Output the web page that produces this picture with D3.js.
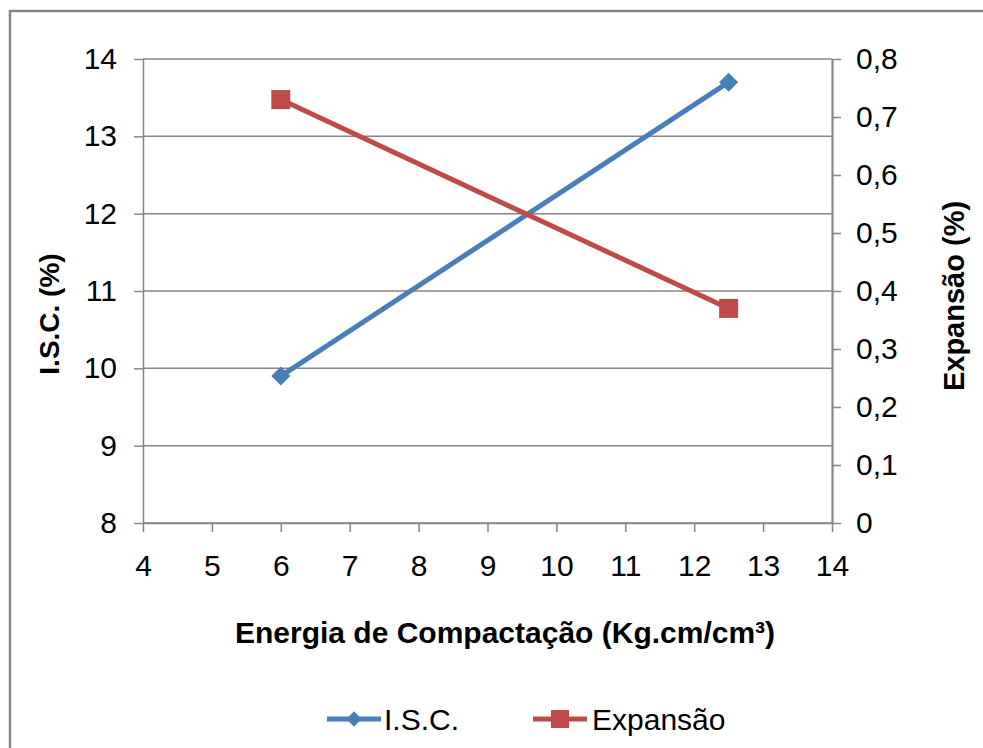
<!DOCTYPE html>
<html>
<head>
<meta charset="utf-8">
<script src="https://cdn.jsdelivr.net/npm/d3@7"></script>
<style>
  body { margin: 0; background: #fff; }
  text { font-family: "Liberation Sans", Arial, sans-serif; fill: #000; }
</style>
</head>
<body>
<div id="chart"></div>
<script>
// data
var energia = [6, 12.5];
var isc = [9.9, 13.7];
var expansao = [0.73, 0.37];

var xTicks = [4, 5, 6, 7, 8, 9, 10, 11, 12, 13, 14];
var yLeftTicks = [8, 9, 10, 11, 12, 13, 14];
var yRightTicks = [0, 0.1, 0.2, 0.3, 0.4, 0.5, 0.6, 0.7, 0.8];

var svgWidth = 983;
var svgHeight = 748;

var margin = { top: 59, right: 151, bottom: 225, left: 143 };
var width = 832 - margin.left;
var height = 523 - margin.top;

var blue = "#4a7ebb";
var red = "#be4b48";
var gray = "#868686";

var svg = d3.select("#chart")
  .append("svg")
  .attr("width", svgWidth)
  .attr("height", svgHeight);

// outer frame (top and left edges show)
svg.append("path")
  .attr("d", "M10,748 V11 H983")
  .attr("fill", "none")
  .attr("stroke", gray)
  .attr("stroke-width", 2.5);

var chartGroup = svg.append("g")
  .attr("transform", `translate(${margin.left}, ${margin.top})`);

var xScale = d3.scaleLinear().domain([4, 14]).range([0, width]);
var yLeft = d3.scaleLinear().domain([8, 14]).range([height, 0]);
var yRight = d3.scaleLinear().domain([0, 0.8]).range([height, 0]);

var comma = d3.formatLocale({ decimal: ",", thousands: ".", grouping: [3], currency: ["", ""] });

// gridlines from the left axis
chartGroup.append("g")
  .selectAll("line")
  .data(yLeftTicks)
  .enter()
  .append("line")
  .attr("x1", 0)
  .attr("x2", width)
  .attr("y1", d => yLeft(d))
  .attr("y2", d => yLeft(d))
  .attr("stroke", gray)
  .attr("stroke-width", 1.5);

// left axis
var leftAxis = chartGroup.append("g")
  .call(d3.axisLeft(yLeft).tickValues(yLeftTicks).tickFormat(d3.format("d"))
    .tickSize(9).tickPadding(17).tickSizeOuter(0));

// right axis
var rightAxis = chartGroup.append("g")
  .attr("transform", `translate(${width}, 0)`)
  .call(d3.axisRight(yRight).tickValues(yRightTicks).tickSize(9).tickPadding(15).tickSizeOuter(0)
    .tickFormat(d => d === 0 ? "0" : comma.format(".1f")(d)));

// bottom axis
var bottomAxis = chartGroup.append("g")
  .attr("transform", `translate(0, ${height})`)
  .call(d3.axisBottom(xScale).tickValues(xTicks).tickFormat(d3.format("d"))
    .tickSize(9).tickPadding(23).tickSizeOuter(0));

[leftAxis, rightAxis, bottomAxis].forEach(function(ax) {
  ax.selectAll("path, line").attr("stroke", gray).attr("stroke-width", 1.5);
  ax.selectAll("text")
    .style("font-size", "30px")
    .style("font-family", "'Liberation Sans', Arial, sans-serif")
    .attr("fill", "#000");
});
rightAxis.select("path").attr("stroke-width", 2.2);

// series
var iscData = energia.map((e, i) => ({ x: e, y: isc[i] }));
var expData = energia.map((e, i) => ({ x: e, y: expansao[i] }));

var iscLine = d3.line().x(d => xScale(d.x)).y(d => yLeft(d.y));
var expLine = d3.line().x(d => xScale(d.x)).y(d => yRight(d.y));

chartGroup.append("path")
  .datum(iscData)
  .attr("d", iscLine)
  .attr("fill", "none")
  .attr("stroke", blue)
  .attr("stroke-width", 5);

chartGroup.append("path")
  .datum(expData)
  .attr("d", expLine)
  .attr("fill", "none")
  .attr("stroke", red)
  .attr("stroke-width", 5);

var diamond = d3.symbol().type(d3.symbolDiamond2).size(230);

chartGroup.selectAll(".isc-pt")
  .data(iscData)
  .enter()
  .append("path")
  .attr("d", diamond)
  .attr("transform", d => `translate(${xScale(d.x)}, ${yLeft(d.y)})`)
  .attr("fill", blue);

chartGroup.selectAll(".exp-pt")
  .data(expData)
  .enter()
  .append("rect")
  .attr("x", d => xScale(d.x) - 9.5)
  .attr("y", d => yRight(d.y) - 9.5)
  .attr("width", 19)
  .attr("height", 19)
  .attr("fill", red);

// axis titles
svg.append("text")
  .attr("transform", "translate(505, 643)")
  .attr("text-anchor", "middle")
  .style("font-size", "30px")
  .style("font-weight", "bold")
  .text("Energia de Compactação (Kg.cm/cm³)");

svg.append("text")
  .attr("transform", "translate(59, 314) rotate(-90)")
  .attr("text-anchor", "middle")
  .style("font-size", "28px")
  .style("font-weight", "bold")
  .text("I.S.C. (%)");

svg.append("text")
  .attr("transform", "translate(964, 296) rotate(-90)")
  .attr("text-anchor", "middle")
  .style("font-size", "29px")
  .style("font-weight", "bold")
  .text("Expansão (%)");

// legend
var legend = svg.append("g").attr("transform", "translate(0, 719)");

legend.append("line")
  .attr("x1", 327).attr("x2", 381)
  .attr("y1", 0).attr("y2", 0)
  .attr("stroke", blue).attr("stroke-width", 5);
legend.append("path")
  .attr("d", d3.symbol().type(d3.symbolDiamond2).size(150))
  .attr("transform", "translate(354, 0)")
  .attr("fill", blue);
legend.append("text")
  .attr("x", 384).attr("y", 11)
  .style("font-size", "30px")
  .text("I.S.C.");

legend.append("line")
  .attr("x1", 533).attr("x2", 587)
  .attr("y1", 0).attr("y2", 0)
  .attr("stroke", red).attr("stroke-width", 5);
legend.append("rect")
  .attr("x", 551).attr("y", -9)
  .attr("width", 18).attr("height", 18)
  .attr("fill", red);
legend.append("text")
  .attr("x", 592).attr("y", 11)
  .style("font-size", "30px")
  .text("Expansão");
</script>
</body>
</html>
